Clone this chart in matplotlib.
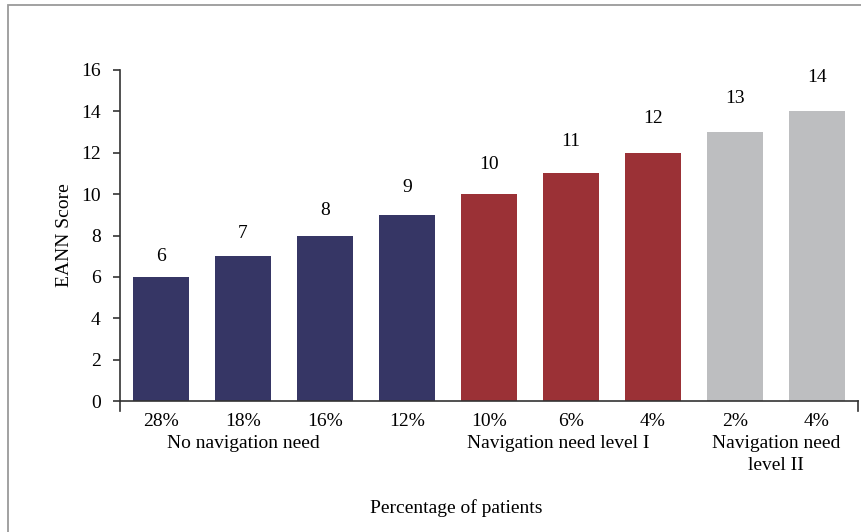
import matplotlib
matplotlib.use("Agg")
import matplotlib.pyplot as plt
from matplotlib.patches import Rectangle
import matplotlib.transforms as mtransforms

# EANN score per patient bucket
scores = [6, 7, 8, 9, 10, 11, 12, 13, 14]
percent_labels = ["28%", "18%", "16%", "12%", "10%", "6%", "4%", "2%", "4%"]
groups = ["No navigation need", "Navigation need level I", "Navigation need\nlevel II"]
group_of_bar = [0, 0, 0, 0, 1, 1, 1, 2, 2]

group_colors = ["#363665", "#9b3136", "#bdbec0"]
group_label_x = [1.0, 4.85, 7.5]

plt.rcParams["font.family"] = ["Liberation Serif", "DejaVu Serif"]
FS = 14

W, H = 861, 532
fig = plt.figure(figsize=(W / 100, H / 100), dpi=100)

# outer frame (top and left edges visible)
fig.patches.append(Rectangle((8 / W, -0.1), 1.2, (H - 5) / H + 0.1,
                             transform=fig.transFigure, fill=False,
                             edgecolor="#9a9a9a", linewidth=1.3))

ax = fig.add_axes([120 / W, 1 - 401 / H, (858 - 120) / W, (401 - 70) / H])
x = list(range(len(scores)))
colors = [group_colors[g] for g in group_of_bar]
ax.bar(x, scores, width=0.68, color=colors, zorder=2)

ax.set_xlim(-0.5, len(scores) - 0.5)
ax.set_ylim(0, 16)
ax.set_yticks(range(0, 17, 2))

for s in ["top", "right"]:
    ax.spines[s].set_visible(False)
for s in ["left", "bottom"]:
    ax.spines[s].set_color("#333333")
    ax.spines[s].set_linewidth(1.2)

ax.tick_params(axis="y", direction="out", length=5, width=1.2, color="#333333",
               pad=9, labelsize=FS)
ax.set_xticks(x)
ax.set_xticklabels(percent_labels)
ax.tick_params(axis="x", length=0, pad=9, labelsize=FS)

# extensions of the axis lines below the baseline
ax.plot([-0.5, -0.5], [0, -0.48], color="#333333", lw=1.2, clip_on=False)
ax.plot([8.5, 8.5], [0, -0.48], color="#333333", lw=1.2, clip_on=False)

# value labels above bars
for xi, v in zip(x, scores):
    off = min(20 + (v - 6) * 2.4, 34) * 0.72
    ax.annotate(str(v), (xi, v), xytext=(0, off), textcoords="offset points",
                ha="center", va="center", fontsize=FS)

# group labels under the percentage row
trans = mtransforms.blended_transform_factory(ax.transData, fig.transFigure)
for gx, name in zip(group_label_x, groups):
    ax.text(gx, 1 - 435 / H, name, transform=trans, ha="center", va="top",
            fontsize=FS, linespacing=1.4)

ax.set_ylabel("EANN Score", fontsize=FS)
ax.yaxis.set_label_coords((73 - 120) / 738, 0.5)
fig.text(456 / W, 1 - 508 / H, "Percentage of patients", ha="center",
         va="center", fontsize=FS)

fig.savefig("out.png", dpi=100)
